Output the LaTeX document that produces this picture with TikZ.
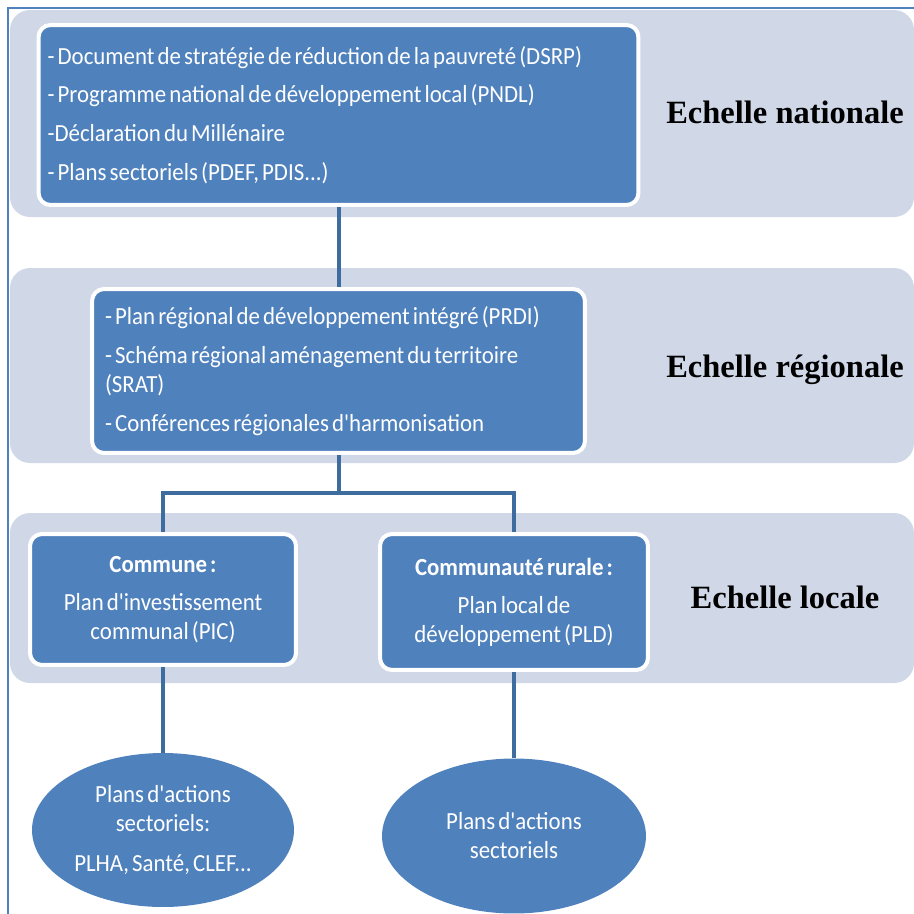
\documentclass[tikz,border=0pt]{standalone}
\usepackage{fontspec}
\setmainfont{Carlito}[FakeStretch=0.93, WordSpace=0.6, Ligatures=TeXOff]
\newfontfamily\echfont{Liberation Serif}
\usetikzlibrary{shapes.geometric}

\definecolor{bleuboite}{HTML}{4F81BD}
\definecolor{bleutrait}{HTML}{3F6C9E}
\definecolor{bande}{HTML}{D0D8E8}
\definecolor{cadre}{HTML}{4F81BD}

\newcommand{\txtboite}{\fontsize{14}{16.5}\selectfont}

\begin{document}
\begin{tikzpicture}[x=0.02cm, y=-0.02cm,
  boite/.style={draw=white, line width=0.08cm, fill=bleuboite, rounded corners=0.24cm,
    text=white, inner sep=0pt, font=\txtboite},
  bulle/.style={ellipse, fill=bleuboite, text=white, inner sep=0pt, align=center, font=\txtboite},
  echelle/.style={font=\echfont\bfseries\fontsize{18.5}{22}\selectfont, anchor=base},
  lien/.style={draw=bleutrait, line width=0.08cm}]
  \useasboundingbox (0,0) rectangle (914,914);

  % Cadre
  \draw[cadre, line width=0.03cm] (8,914) -- (8,8) -- (914,8);

  % Bandes de fond
  \fill[bande, rounded corners=0.4cm] (10,10) rectangle (914,217);
  \fill[bande, rounded corners=0.4cm] (10,268) rectangle (914,463);
  \fill[bande, rounded corners=0.4cm] (10,513) rectangle (914,683);

  % Echelle nationale
  \node[boite, minimum width=12cm, minimum height=3.6cm, text width=11.64cm, align=flush left] (nat) at (338.5,115)
    {- Document de stratégie de réduction de la pauvreté (DSRP)\\[5.5pt]
     - Programme national de développement local (PNDL)\\[5.5pt]
     -Déclaration du Millénaire\\[5.5pt]
     - Plans sectoriels (PDEF, PDIS...)};

  % Echelle régionale
  \node[boite, minimum width=9.86cm, minimum height=3.28cm, text width=9.34cm, align=flush left] (reg) at (338.5,371)
    {- Plan régional de développement intégré (PRDI)\\[5.5pt]
     - Schéma régional aménagement du territoire\\
     (SRAT)\\[5.5pt]
     - Conférences régionales d'harmonisation};

  % Echelle locale
  \node[boite, minimum width=5.32cm, minimum height=2.62cm, align=center] (com) at (163,599.5)
    {\textbf{Commune :}\\[5pt] Plan d'investissement\\ communal (PIC)};
  \node[boite, minimum width=5.36cm, minimum height=2.72cm, align=center] (cr) at (514,602)
    {\textbf{Communauté rurale :}\\[5pt] Plan local de\\ développement (PLD)};

  % Plans d'actions
  \node[bulle, minimum width=5.24cm, minimum height=3.08cm] (pac) at (163,830)
    {Plans d'actions\\ sectoriels:\\[6pt] PLHA, Santé, CLEF...};
  \node[bulle, minimum width=5.28cm, minimum height=3.1cm] (pas) at (514,836)
    {Plans d'actions\\ sectoriels};

  % Libellés des échelles
  \node[echelle] (labnat) at (785,123) {Echelle nationale};
  \node[echelle] (labreg) at (785,377) {Echelle régionale};
  \node[echelle] (labloc) at (785,608) {Echelle locale};

  % Liaisons
  \coordinate (fourche) at (338.5,493);
  \draw[lien] (nat.south) -- (reg.north);
  \draw[lien] (reg.south) -- (fourche);
  \draw[lien] (fourche) -| (com.north);
  \draw[lien] (fourche) -| (cr.north);
  \draw[lien] (com.south) -- (pac.north);
  \draw[lien] (cr.south) -- (pas.north);
\end{tikzpicture}
\end{document}
